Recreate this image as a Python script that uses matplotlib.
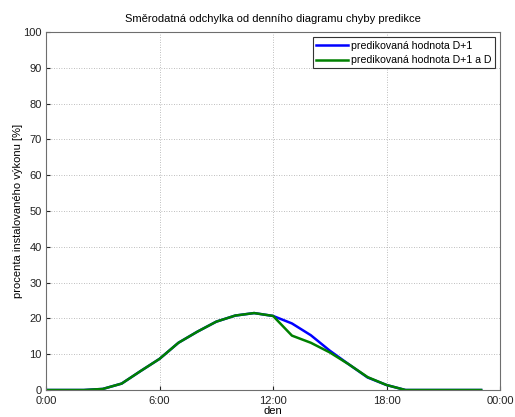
import matplotlib
matplotlib.use("Agg")
import matplotlib.pyplot as plt

plt.rcParams['font.family'] = ['Liberation Sans', 'DejaVu Sans']

hours = list(range(24))
d1 = [0, 0, 0, 0.3, 1.8, 5.3, 8.7, 13.2, 16.3, 19.1, 20.8, 21.5, 20.7,
      18.6, 15.3, 11.0, 7.2, 3.5, 1.4, 0, 0, 0, 0, 0]
d1_d = [0, 0, 0, 0.3, 1.8, 5.3, 8.7, 13.2, 16.3, 19.1, 20.8, 21.5, 20.7,
        15.2, 13.2, 10.5, 7.2, 3.6, 1.4, 0, 0, 0, 0, 0]
xticks = [0, 6, 12, 18, 24]
xticklabels = ["0:00", "6:00", "12:00", "18:00", "00:00"]
yticks = list(range(0, 101, 10))

fig = plt.figure(figsize=(5.15, 4.17), dpi=100)
ax = fig.add_axes([0.0893, 0.0647, 0.8817, 0.8583])

ax.plot(hours, d1, color=(0, 0, 1), lw=1.8, label="predikovaná hodnota D+1")
ax.plot(hours, d1_d, color=(0, 0.5, 0), lw=1.8, label="predikovaná hodnota D+1 a D")

ax.set_xlim(0, 24)
ax.set_ylim(0, 100)
ax.set_xticks(xticks)
ax.set_xticklabels(xticklabels)
ax.set_yticks(yticks)
ax.tick_params(direction='in', length=3, labelsize=8, colors='#222222', pad=3)
ax.tick_params(axis='x', pad=4)
for s in ax.spines.values():
    s.set_color('#6e6e6e')
    s.set_linewidth(0.8)
ax.grid(True, linestyle=(0, (1, 2)), color='#a8a8a8', linewidth=0.6)

ax.set_title("Směrodatná odchylka od denního diagramu chyby predikce", fontsize=8, pad=7)
ax.set_xlabel("den", fontsize=8, labelpad=0)
ax.set_ylabel("procenta instalovaného výkonu [%]", fontsize=8, labelpad=0)

leg = ax.legend(loc='upper right', fontsize=7.6, fancybox=False, framealpha=1,
                edgecolor='#333333', borderaxespad=0.5, handlelength=3.0,
                labelspacing=0.45, borderpad=0.3, handletextpad=0.3)
leg.get_frame().set_linewidth(0.8)

fig.savefig("out.png", dpi=100)
